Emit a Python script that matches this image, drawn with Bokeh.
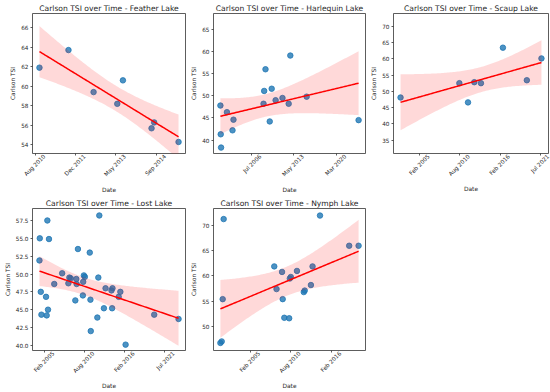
import math
import numpy as np
import pandas as pd
from bokeh.plotting import figure
from bokeh.layouts import row, column
from bokeh.models import (Range1d, FixedTicker, PrintfTickFormatter, CustomJSTickFormatter,
                          DatetimeAxis)
from bokeh.embed import file_html
from bokeh.resources import INLINE

# ---------------- data ----------------
feather_dates = ["2010-10-04", "2011-09-30", "2012-08-07", "2013-05-29", "2013-08-07",
                 "2014-07-29", "2014-08-31", "2015-06-30"]
feather_tsi = [61.9, 63.7, 59.4, 58.2, 60.6, 55.7, 56.3, 54.3]

harlequin_dates = ["2001-07-07", "2001-07-26", "2001-08-15", "2002-07-27", "2003-06-19",
                   "2003-08-15", "2008-06-19", "2008-07-27", "2008-10-12", "2009-06-19",
                   "2009-10-12", "2010-05-31", "2011-07-09", "2012-07-08", "2012-10-12",
                   "2015-06-01", "2023-10-15"]
harlequin_tsi = [47.8, 41.3, 38.3, 46.3, 42.2, 44.6, 48.2, 51.1, 56.0, 44.2, 51.6, 49.0,
                 49.5, 48.2, 59.1, 49.8, 44.5]

scaup_dates = ["2002-07-08", "2010-07-19", "2011-09-23", "2012-08-02", "2013-06-30",
               "2016-06-28", "2019-10-04", "2021-10-02"]
scaup_tsi = [48.1, 52.5, 46.6, 52.8, 52.5, 63.4, 53.4, 60.1]

lost_dates = ["2004-06-22", "2004-07-09", "2004-08-27", "2004-09-28", "2005-05-16",
              "2005-06-18", "2005-07-21", "2005-08-22", "2005-10-10", "2006-06-30",
              "2007-07-28", "2008-06-03", "2008-07-23", "2008-09-26", "2009-05-14",
              "2009-07-02", "2009-07-18", "2009-09-22", "2010-05-26", "2010-06-11",
              "2010-07-14", "2010-09-01", "2011-05-05", "2011-06-07", "2011-06-23",
              "2012-05-16", "2012-07-04", "2012-08-22", "2013-04-09", "2013-06-30",
              "2014-04-21", "2014-05-23", "2014-06-09", "2015-04-16", "2015-07-07",
              "2016-03-25", "2020-02-19", "2023-06-16"]
lost_tsi = [51.9, 55.0, 47.5, 44.3, 46.8, 44.2, 57.5, 45.0, 54.9, 48.6, 50.1, 48.7, 49.5,
            49.4, 46.3, 49.3, 48.6, 53.5, 47.0, 48.9, 49.8, 49.6, 53.0, 46.4, 42.0, 43.9,
            49.5, 58.2, 45.2, 48.0, 47.7, 45.2, 48.0, 46.8, 47.5, 40.1, 44.3, 43.7]

nymph_dates = ["2001-02-12", "2001-04-17", "2001-06-04", "2001-07-22", "2008-05-22",
               "2008-09-11", "2009-06-10", "2009-07-12", "2009-09-30", "2010-05-28",
               "2010-06-29", "2010-08-16", "2011-06-16", "2012-05-17", "2012-07-04",
               "2013-05-04", "2013-07-24", "2014-07-26", "2018-07-05", "2019-10-12"]
nymph_tsi = [46.7, 47.0, 55.4, 71.3, 61.9, 57.4, 60.8, 55.4, 51.7, 51.6, 59.5, 59.8, 61.0,
             56.8, 57.1, 58.2, 61.9, 72.0, 66.0, 66.0]

# tick positions (dates) — labels are shown as "Mon YYYY"
feather_xticks = ["2010-08-16", "2011-12-29", "2013-05-12", "2014-09-24"]
harlequin_xticks = ["2006-07-08", "2013-05-12", "2020-03-16"]
scaup_xticks = ["2005-02-23", "2010-08-16", "2016-02-06", "2021-07-29"]
lost_xticks = ["2005-02-23", "2010-08-16", "2016-02-06", "2021-07-29"]
nymph_xticks = ["2005-02-23", "2010-08-16", "2016-02-06"]

feather_yticks = [54, 56, 58, 60, 62, 64, 66]
harlequin_yticks = [40, 45, 50, 55, 60, 65]
scaup_yticks = [35, 40, 45, 50, 55, 60, 65, 70]
lost_yticks = [40.0, 42.5, 45.0, 47.5, 50.0, 52.5, 55.0, 57.5]
nymph_yticks = [50, 55, 60, 65, 70]

lakes = ["Feather Lake", "Harlequin Lake", "Scaup Lake", "Lost Lake", "Nymph Lake"]

# ---------------- helpers ----------------
DAY_MS = 86400000.0
FONT = "DejaVu Sans"
TXT = "#262626"
LABEL_SHIFT_PX = 9   # centre rotated labels under ticks like matplotlib


def to_ms(dates):
    return pd.to_datetime(pd.Series(dates)).values.astype("datetime64[ms]").astype(np.int64).astype(float)


def t_quantile(df, z=1.959964):
    return (z + (z**3 + z) / (4 * df)
            + (5 * z**5 + 16 * z**3 + 3 * z) / (96 * df**2)
            + (3 * z**7 + 19 * z**5 + 17 * z**3 - 15 * z) / (384 * df**3))


def style_axis(ax):
    ax.axis_line_color = None
    ax.major_tick_line_color = "#333333"
    ax.major_tick_line_width = 0.8
    ax.major_tick_out = 2
    ax.major_tick_in = 0
    ax.minor_tick_line_color = None
    ax.major_label_text_font = FONT
    ax.major_label_text_font_size = "5.7px"
    ax.major_label_text_color = TXT
    ax.major_label_standoff = 2
    ax.axis_label_text_font = FONT
    ax.axis_label_text_font_size = "5.9px"
    ax.axis_label_text_font_style = "normal"
    ax.axis_label_text_color = TXT
    ax.axis_label_standoff = 2


def make_panel(lake, dates, tsi, xticks, yticks, yrange, yfmt, width, height,
               b_top, b_bottom, b_left, b_right):
    x = to_ms(dates)
    y = np.asarray(tsi, dtype=float)
    xd = x / DAY_MS
    n = len(xd)
    slope, icpt = np.polyfit(xd, y, 1)
    grid = np.linspace(xd.min(), xd.max(), 100)
    fit = icpt + slope * grid
    resid = y - (icpt + slope * xd)
    s = math.sqrt(np.sum(resid**2) / (n - 2))
    sxx = np.sum((xd - xd.mean())**2)
    se = s * np.sqrt(1.0 / n + (grid - xd.mean())**2 / sxx)
    t = t_quantile(n - 2)
    span = x.max() - x.min()
    x0, x1 = x.min() - 0.05 * span, x.max() + 0.05 * span

    p = figure(width=width, height=height, x_axis_type="datetime",
               x_range=Range1d(x0, x1), y_range=Range1d(*yrange),
               output_backend="svg", toolbar_location=None,
               min_border_top=b_top, min_border_bottom=b_bottom,
               min_border_left=b_left, min_border_right=b_right)
    p.scatter(x, y, size=5.5, fill_color="#1f77b4", line_color="#1f77b4",
              fill_alpha=0.8, line_alpha=0.8)
    p.varea(x=grid * DAY_MS, y1=fit - t * se, y2=fit + t * se,
            fill_color="red", fill_alpha=0.15)
    p.line(grid * DAY_MS, fit, line_color="red", line_width=1.5)

    p.title.text = "Carlson TSI over Time - " + lake
    p.title.align = "center"
    p.title.text_font = FONT
    p.title.text_font_size = "7.6px"
    p.title.text_font_style = "normal"
    p.title.text_color = TXT
    p.title.standoff = 2

    p.xgrid.visible = False
    p.ygrid.visible = False
    p.outline_line_color = "#333333"
    p.outline_line_width = 0.8
    p.outline_line_alpha = 1.0

    tick_ms = list(to_ms(xticks))
    tick_text = list(pd.to_datetime(pd.Series(xticks)).dt.strftime("%b %Y"))

    # main x axis: tick marks only
    xax = p.xaxis[0]
    style_axis(xax)
    xax.ticker = FixedTicker(ticks=tick_ms)
    xax.formatter = CustomJSTickFormatter(code="return ''")
    xax.major_label_text_font_size = "1px"
    xax.major_label_standoff = 0

    # label axis: rotated labels, nudged right so each sits centred under its tick
    frame_w = width - b_left - b_right
    shift = LABEL_SHIFT_PX * (x1 - x0) / frame_w
    margin = 0.002 * (x1 - x0)
    lab_ticks = [float(round(tv + min(shift, x1 - margin - tv))) for tv in tick_ms]
    lab = DatetimeAxis(ticker=FixedTicker(ticks=lab_ticks),
                       formatter=CustomJSTickFormatter(
                           args=dict(tvals=lab_ticks, tlabels=tick_text),
                           code="""
                           let best = -1, bd = Infinity;
                           for (let i = 0; i < tvals.length; i++) {
                             const d = Math.abs(tvals[i] - tick);
                             if (d < bd) { bd = d; best = i; }
                           }
                           return best >= 0 ? tlabels[best] : '';
                           """))
    style_axis(lab)
    lab.major_tick_line_color = None
    lab.major_tick_out = 0
    lab.major_label_standoff = 0
    lab.major_label_orientation = math.pi / 4
    lab.axis_label = "Date"
    lab.axis_label_standoff = 4
    p.add_layout(lab, "below")

    yax = p.yaxis[0]
    style_axis(yax)
    yax.ticker = FixedTicker(ticks=yticks)
    yax.formatter = PrintfTickFormatter(format=yfmt)
    yax.axis_label = "Carlson TSI"
    return p


p1 = make_panel(lakes[0], feather_dates, feather_tsi, feather_xticks, feather_yticks,
                (53.12, 67.44), "%d", 188, 195, 12, 37, 32, 3)
p2 = make_panel(lakes[1], harlequin_dates, harlequin_tsi, harlequin_xticks, harlequin_yticks,
                (36.96, 68.6), "%d", 180, 195, 12, 37, 24, 3)
p3 = make_panel(lakes[2], scaup_dates, scaup_tsi, scaup_xticks, scaup_yticks,
                (30.9, 73.9), "%d", 182, 195, 12, 37, 24, 2)
p4 = make_panel(lakes[3], lost_dates, lost_tsi, lost_xticks, lost_yticks,
                (39.28, 59.18), "%.1f", 188, 197, 12, 39, 32, 3)
p5 = make_panel(lakes[4], nymph_dates, nymph_tsi, nymph_xticks, nymph_yticks,
                (45.2, 73.4), "%d", 180, 197, 12, 39, 24, 3)

layout = column(row(p1, p2, p3), row(p4, p5))
open("out.html", "w").write(file_html(layout, INLINE))
